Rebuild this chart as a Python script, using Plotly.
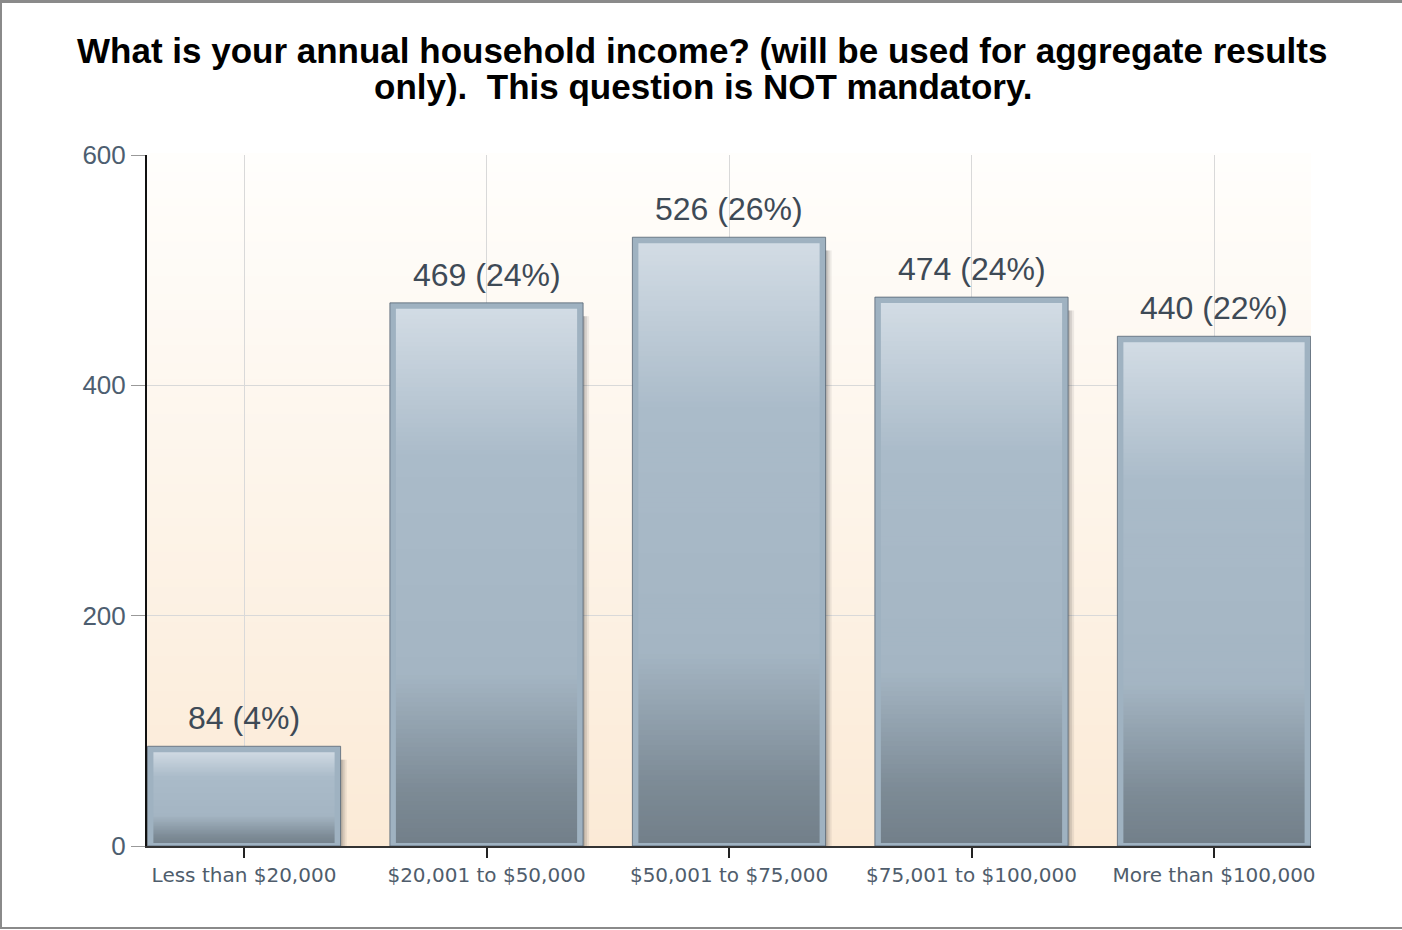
import plotly.graph_objects as go

categories = ["Less than $20,000", "$20,001 to $50,000", "$50,001 to $75,000",
              "$75,001 to $100,000", "More than $100,000"]
counts = [84, 469, 526, 474, 440]
percents = [4, 24, 26, 24, 22]
y_ticks = [0, 200, 400, 600]
title_lines = ["What is your annual household income? (will be used for aggregate results",
               "only).  This question is NOT mandatory."]

# ---- layout geometry (pixels) ----
W, H = 1402, 930
ML, MR, MT, MB = 147, 91, 155, 84
PW, PH = W - ML - MR, H - MT - MB
X_RANGE = [-0.4, len(categories) - 0.6]
CAT_PX = PW / (X_RANGE[1] - X_RANGE[0])

BAR_W = 0.772

def px_x(p):
    return (p - ML) / PW

def px_y(p):
    return (H - MB - p) / PH

def lerp(c1, c2, t):
    return tuple(round(a + (b - a) * t) for a, b in zip(c1, c2))

# vertical gradient inside a bar: t=0 bottom, t=1 top
bar_stops = [(0.0, (0x72, 0x7f, 0x89)), (0.10, (0x7c, 0x8a, 0x95)),
             (0.32, (0xa4, 0xb5, 0xc3)), (0.72, (0xaa, 0xbb, 0xc9)),
             (1.0, (0xd3, 0xdd, 0xe5))]

def bar_color(t):
    for (t0, c0), (t1, c1) in zip(bar_stops, bar_stops[1:]):
        if t <= t1:
            return "rgb(%d,%d,%d)" % lerp(c0, c1, (t - t0) / (t1 - t0))
    return "rgb(%d,%d,%d)" % bar_stops[-1][1]

fig = go.Figure()

# soft shadow to the right of each bar
for dx, a in [(9, 0.08), (7, 0.11), (5, 0.14), (3, 0.18)]:
    fig.add_trace(go.Bar(
        x=categories, y=[v - 6 for v in counts], base=[-3] * len(counts),
        width=BAR_W, offset=-BAR_W / 2 + dx / CAT_PX,
        marker=dict(color="rgba(40,40,40,%.2f)" % a, line=dict(width=0)),
        hoverinfo="skip", showlegend=False, cliponaxis=False))

# gradient body built from stacked slices of each bar's value
N = 120
for i in range(N):
    t = (i + 0.5) / N
    f = 2.0 if i < N - 1 else 1.0
    fig.add_trace(go.Bar(
        x=categories, y=[v / N * f for v in counts], base=[v * i / N for v in counts],
        width=BAR_W, marker=dict(color=bar_color(t), line=dict(width=0)),
        hoverinfo="skip", showlegend=False))

# outline
fig.add_trace(go.Bar(
    x=categories, y=counts, width=BAR_W,
    marker=dict(color="rgba(0,0,0,0)", line=dict(color="#9fb2c1", width=6)),
    hoverinfo="skip", showlegend=False, cliponaxis=False))
# thin dark outer edge
fig.add_trace(go.Bar(
    x=categories, y=[v + 2.6 for v in counts], width=BAR_W + 6 / CAT_PX,
    marker=dict(color="rgba(80,95,110,0)", line=dict(color="rgba(80,95,110,0.75)", width=1)),
    hoverinfo="skip", showlegend=False, cliponaxis=False))

# plot-area background gradient (white top -> peach bottom)
shapes = []
NB = 80
top_c, bot_c = (0xff, 0xfe, 0xfc), (0xfb, 0xea, 0xd6)
for i in range(NB):
    c = lerp(bot_c, top_c, (i + 0.5) / NB)
    shapes.append(dict(type="rect", xref="paper", yref="paper", x0=0, x1=1,
                       y0=i / NB, y1=(i + 1) / NB + 0.003, layer="below",
                       line=dict(width=0), fillcolor="rgb(%d,%d,%d)" % c))
# outer frame (top, left, bottom)
frame = dict(color="#8a8a8a", width=2)
shapes += [
    dict(type="line", xref="paper", yref="paper", x0=px_x(0), x1=px_x(W), y0=px_y(1.5), y1=px_y(1.5),
         line=dict(color="#8a8a8a", width=3), layer="above"),
    dict(type="line", xref="paper", yref="paper", x0=px_x(1), x1=px_x(1), y0=px_y(0), y1=px_y(929),
         line=frame, layer="above"),
    dict(type="line", xref="paper", yref="paper", x0=px_x(0), x1=px_x(W), y0=px_y(928), y1=px_y(928),
         line=frame, layer="above"),
]

title_font = dict(family="Liberation Sans, Arial, sans-serif", size=35, color="#000")
annotations = [
    dict(text="<b>%s</b>" % title_lines[0], xref="paper", yref="paper",
         x=px_x(702), y=px_y(50), showarrow=False, xanchor="center", yanchor="middle",
         font=title_font),
    dict(text="<b>%s</b>" % title_lines[1].replace("  ", "&nbsp; "), xref="paper", yref="paper",
         x=px_x(703), y=px_y(86), showarrow=False, xanchor="center", yanchor="middle",
         font=title_font),
]
# value labels above bars
for c, v, p in zip(categories, counts, percents):
    annotations.append(dict(
        x=c, y=v, xref="x", yref="y", text=f"{v} ({p}%)", showarrow=False,
        xanchor="center", yanchor="bottom", yshift=11,
        font=dict(family="Liberation Sans, Arial, sans-serif", size=32, color="#3e4a56")))

fig.update_layout(
    width=W, height=H, autosize=False,
    margin=dict(l=ML, r=MR, t=MT, b=MB, pad=0),
    paper_bgcolor="white", plot_bgcolor="rgba(0,0,0,0)",
    barmode="overlay", showlegend=False,
    shapes=shapes, annotations=annotations,
    xaxis=dict(type="category", range=X_RANGE, showgrid=True, gridcolor="#d9d9d9", gridwidth=1,
               showline=True, linecolor="#333", linewidth=2,
               ticks="outside", ticklen=10, tickwidth=2, tickcolor="#222",
               tickfont=dict(family="DejaVu Sans, Verdana, sans-serif", size=20, color="#4f5d6c"),
               zeroline=False),
    yaxis=dict(range=[0, 600], tickvals=y_ticks, showgrid=True, gridcolor="#d9d9d9",
               gridwidth=1, showline=True, linecolor="#111", linewidth=2,
               ticks="outside", ticklen=14, tickwidth=1, tickcolor="#999",
               tickfont=dict(family="Liberation Sans, Arial, sans-serif", size=26, color="#4d5e70"),
               zeroline=False),
)

fig.write_html("out.html", config={"displayModeBar": False},
               post_script="document.body.style.margin='0';")
